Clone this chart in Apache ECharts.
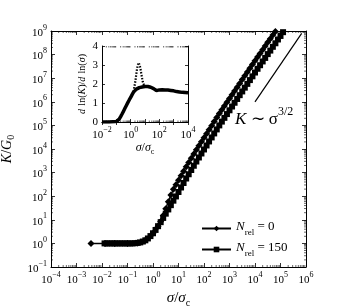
<!DOCTYPE html>
<html><head><meta charset="utf-8">
<script src="https://cdn.jsdelivr.net/npm/echarts@6/dist/echarts.min.js"></script>
<style>html,body{margin:0;padding:0;background:#fff}#c{width:341px;height:307px}</style>
</head><body><div id="c"></div>
<script>
// N_rel = 150 (square markers, dense lower band)
const sigma150 = [0.0126,0.0158,0.02,0.0251,0.0316,0.0398,0.0501,0.0631,0.0794,
 0.1,0.126,0.158,0.2,0.251,0.316,0.398,0.501,0.631,0.794,
 1,1.26,1.58,2.0,2.51,3.16,3.98,5.01,6.31,7.94,
 10,12.6,15.8,20,25.1,31.6,39.8,50.1,63.1,79.4,
 100,126,158,200,251,316,398,501,631,794,
 1000,1260,1580,2000,2510,3160,3980,5010,6310,7940,
 1e4,1.26e4,1.58e4,2e4,2.51e4,3.16e4,3.98e4,5.01e4,6.31e4,7.94e4,
 1e5,1.26e5,1.58e5];
const k150 = [1,1,1,1,1,1,1,1,1,1,1,1,
 1.02,1.05,1.10,1.20,1.35,1.62,2.04,
 2.69,3.72,5.37,7.94,12.0,18.2,27.5,41.7,64.6,97.7,
 151,234,363,562,851,1290,1950,2950,4370,6460,
 9550,14100,20900,30900,45700,67600,1.00e5,1.45e5,2.09e5,3.02e5,
 4.37e5,6.31e5,9.12e5,1.32e6,1.91e6,2.75e6,3.98e6,5.75e6,8.32e6,1.20e7,
 1.74e7,2.51e7,3.55e7,5.13e7,7.24e7,1.05e8,1.48e8,2.14e8,3.02e8,4.37e8,
 6.17e8,8.91e8,1.26e9];
// N_rel = 0 (diamond markers, upper curve)
const sigma0 = [0.0037,0.0132,0.0316,0.1,0.251,0.501,1,1.58,
 2.0,2.51,3.16,3.98,5.01,6.31,7.94,
 10,12.6,15.8,20,25.1,31.6,39.8,50.1,63.1,79.4,
 100,126,158,200,251,316,398,501,631,794,
 1000,1260,1580,2000,2510,3160,3980,5010,6310,7940,
 1e4,1.26e4,1.58e4,2e4,2.51e4,3.16e4,3.98e4,5.01e4,6.31e4,7.94e4];
const k0 = [1,1,1,1,1.05,1.35,2.69,5.37,
 8.51,15.1,29.5,58.9,112,195,309,
 479,741,1150,1780,2690,4070,6170,9330,13800,20400,
 30200,44700,66100,97700,1.45e5,2.14e5,3.16e5,4.57e5,6.61e5,9.55e5,
 1.38e6,2.00e6,2.88e6,4.17e6,6.03e6,8.71e6,1.26e7,1.82e7,2.63e7,3.80e7,
 5.50e7,7.94e7,1.12e8,1.62e8,2.29e8,3.31e8,4.68e8,6.76e8,9.55e8,1.38e9];
// reference slope line K ~ sigma^(3/2)
const refSigma = [1e4, 6.76e5];
const refK = [1e6, 7.9e8];
// inset: d ln K / d ln sigma
const insetSigma150 = [0.01,0.0316,0.1,0.126,0.158,0.2,0.251,0.316,0.398,0.501,0.631,0.794,
 1,1.26,1.58,2.0,2.51,3.16,3.98,5.01,6.31,7.94,
 10,12.6,15.8,20,25.1,31.6,39.8,50.1,63.1,79.4,
 100,158,251,398,631,1000,1580,2510,3980,6310,10000];
const insetSlope150 = [0,0,0.02,0.05,0.15,0.28,0.42,0.57,0.72,0.87,1.02,1.16,
 1.29,1.44,1.57,1.66,1.73,1.78,1.81,1.83,1.84,1.86,
 1.87,1.88,1.87,1.85,1.83,1.81,1.76,1.70,1.65,1.66,
 1.69,1.70,1.69,1.68,1.66,1.64,1.60,1.58,1.56,1.55,1.54];
const insetSigma0 = [1.58,1.86,2.14,2.45,2.75,3.16,3.63,4.17,4.68,5.37,6.17,7.08,8.13,9.33];
const insetSlope0 = [1.6,1.9,2.16,2.5,2.77,3.0,3.12,3.0,2.86,2.6,2.33,2.1,1.98,1.92];
const seriesNames = ['N_rel = 0', 'N_rel = 150'];
const legendLabels = {'N_rel = 0': '{i|N}{s|rel}{n| = 0}', 'N_rel = 150': '{i|N}{s|rel}{n| = 150}'};
// log-axis minor tick mantissas and decade ranges
const minorMantissas = [2,3,4,5,6,7,8,9];
const mainXDecades = [-4,-3,-2,-1,0,1,2,3,4,5];
const mainYDecades = [-1,0,1,2,3,4,5,6,7,8];
const insetXDecades = [-2,-1,0,1,2,3];

const zip = (a, b) => a.map((v, i) => [v, b[i]]);
const minorVals = decs => decs.flatMap(d => minorMantissas.map(m => m * Math.pow(10, d)));
const FF = 'Liberation Serif';
const supLabel = (v) => {
  const e = Math.round(Math.log10(v));
  return '{b|10}{e|' + (e < 0 ? '\u2212' + (-e) : e) + '}';
};
const supRich = {
  b: {fontFamily: FF, fontSize: 11, color: '#000', verticalAlign: 'bottom', lineHeight: 15},
  e: {fontFamily: FF, fontSize: 8, color: '#000', verticalAlign: 'top', lineHeight: 15}
};
const tickIn = {show: true, inside: true, length: 4, lineStyle: {color: '#000', width: 0.8}};
const tickInS = {show: true, inside: true, length: 3, lineStyle: {color: '#000', width: 0.8}};
const line = {show: true, lineStyle: {color: '#000', width: 1}};

function minorTickSeries(xi, yi, vals, horizontal, len, yRef, xRef) {
  return {
    type: 'custom', xAxisIndex: xi, yAxisIndex: yi, silent: true, clip: false, z: 6,
    data: vals.map(v => horizontal ? [v, yRef] : [xRef, v]),
    renderItem: (params, api) => {
      const cs = params.coordSys;
      const p = api.coord([api.value(0), api.value(1)]);
      const st = {stroke: '#000', lineWidth: 0.6};
      if (horizontal) {
        return {type: 'group', children: [
          {type: 'line', shape: {x1: p[0], y1: cs.y + cs.height, x2: p[0], y2: cs.y + cs.height - len}, style: st},
          {type: 'line', shape: {x1: p[0], y1: cs.y, x2: p[0], y2: cs.y + len}, style: st}]};
      }
      return {type: 'group', children: [
        {type: 'line', shape: {x1: cs.x, y1: p[1], x2: cs.x + len, y2: p[1]}, style: st},
        {type: 'line', shape: {x1: cs.x + cs.width, y1: p[1], x2: cs.x + cs.width - len, y2: p[1]}, style: st}]};
    }
  };
}

const chart = echarts.init(document.getElementById('c'), null, {renderer: 'canvas'});
chart.setOption({
  animation: false,
  backgroundColor: '#fff',
  grid: [
    {left: 51, right: 35, top: 31, bottom: 40, outerBoundsMode: 'none', containLabel: false},
    {left: 102, top: 46, width: 86, height: 76, show: true, backgroundColor: '#fff', borderWidth: 0, outerBoundsMode: 'none', containLabel: false}
  ],
  xAxis: [
    {gridIndex: 0, type: 'log', min: 1e-4, max: 1e6, position: 'bottom',
     name: '{i|σ}{n|/}{i|σ}{s|c}', nameLocation: 'middle', nameGap: 20,
     nameTextStyle: {rich: {i: {fontFamily: FF, fontSize: 15, fontStyle: 'italic', color: '#000'}, n: {fontFamily: FF, fontSize: 15, color: '#000'}, s: {fontFamily: FF, fontSize: 10, color: '#000', verticalAlign: 'bottom', lineHeight: 20}}},
     axisLine: line, axisTick: tickIn, splitLine: {show: false},
     axisLabel: {formatter: supLabel, rich: supRich, margin: 4}},
    {gridIndex: 0, type: 'log', min: 1e-4, max: 1e6, position: 'top',
     axisLine: line, axisTick: tickIn, splitLine: {show: false}, axisLabel: {show: false}},
    {gridIndex: 1, type: 'log', min: 1e-2, max: 1e4, position: 'bottom',
     name: '{i|σ}{n|/}{i|σ}{s|c}', nameLocation: 'middle', nameGap: 17,
     nameTextStyle: {rich: {i: {fontFamily: FF, fontSize: 12, fontStyle: 'italic', color: '#000'}, n: {fontFamily: FF, fontSize: 12, color: '#000'}, s: {fontFamily: FF, fontSize: 8, color: '#000', verticalAlign: 'bottom', lineHeight: 16}}},
     axisLine: line, axisTick: tickInS, splitLine: {show: false},
     axisLabel: {formatter: v => (Math.round(Math.log10(v)) % 2 === 0 ? supLabel(v) : ''), rich: supRich, margin: 4}},
    {gridIndex: 1, type: 'log', min: 1e-2, max: 1e4, position: 'top',
     axisLine: line, axisTick: tickInS, splitLine: {show: false}, axisLabel: {show: false}}
  ],
  yAxis: [
    {gridIndex: 0, type: 'log', min: 1e-1, max: 1e9, position: 'left',
     name: '{i|K}{n|/}{i|G}{s|0}', nameLocation: 'middle', nameGap: 30, nameRotate: 90,
     nameTextStyle: {rich: {i: {fontFamily: FF, fontSize: 14, fontStyle: 'italic', color: '#000'}, n: {fontFamily: FF, fontSize: 14, color: '#000'}, s: {fontFamily: FF, fontSize: 10, color: '#000', verticalAlign: 'bottom', lineHeight: 19}}},
     axisLine: line, axisTick: tickIn, splitLine: {show: false},
     axisLabel: {formatter: supLabel, rich: supRich, margin: 4}},
    {gridIndex: 0, type: 'log', min: 1e-1, max: 1e9, position: 'right',
     axisLine: line, axisTick: tickIn, splitLine: {show: false}, axisLabel: {show: false}},
    {gridIndex: 1, type: 'value', min: 0, max: 4, interval: 1, position: 'left',
     name: '{i|d} {n|ln(}{i|K}{n|)/}{i|d} {n|ln(}{i|σ}{n|)}', nameLocation: 'middle', nameGap: 14, nameRotate: 90,
     nameTextStyle: {rich: {i: {fontFamily: FF, fontSize: 10, fontStyle: 'italic', color: '#000'}, n: {fontFamily: FF, fontSize: 10, color: '#000'}}},
     axisLine: line, axisTick: tickInS, splitLine: {show: false},
     axisLabel: {fontFamily: FF, fontSize: 11, color: '#000', margin: 4}},
    {gridIndex: 1, type: 'value', min: 0, max: 4, interval: 1, position: 'right',
     axisLine: line, axisTick: tickInS, splitLine: {show: false}, axisLabel: {show: false}}
  ],
  legend: {
    data: seriesNames, left: 196, top: 215, orient: 'vertical', itemGap: 4,
    itemWidth: 29, itemHeight: 7,
    formatter: n => legendLabels[n],
    textStyle: {rich: {
      i: {fontFamily: FF, fontSize: 13, fontStyle: 'italic', color: '#000', verticalAlign: 'top', lineHeight: 17},
      s: {fontFamily: FF, fontSize: 9, color: '#000', verticalAlign: 'bottom', lineHeight: 17},
      n: {fontFamily: FF, fontSize: 13, color: '#000', verticalAlign: 'top', lineHeight: 17}}}
  },
  graphic: [{
    type: 'text', left: 235, top: 106,
    style: {text: '{i|K}{n| ∼ }{g|σ}{p|3/2}', rich: {
      i: {fontFamily: FF, fontSize: 17, fontStyle: 'italic', fill: '#000', verticalAlign: 'bottom', lineHeight: 22},
      n: {fontFamily: FF, fontSize: 17, fill: '#000', verticalAlign: 'bottom', lineHeight: 22},
      g: {fontFamily: FF, fontSize: 17, fill: '#000', verticalAlign: 'bottom', lineHeight: 22},
      p: {fontFamily: FF, fontSize: 12, fill: '#000', verticalAlign: 'top', lineHeight: 22}}}
  }],
  series: [
    {name: 'N_rel = 0', type: 'line', xAxisIndex: 0, yAxisIndex: 0, data: zip(sigma0, k0),
     symbol: 'diamond', symbolSize: 7, showAllSymbol: true, color: '#000',
     lineStyle: {color: '#000', width: 1.5}, itemStyle: {color: '#000'}, z: 3},
    {name: 'N_rel = 150', type: 'line', xAxisIndex: 0, yAxisIndex: 0, data: zip(sigma150, k150),
     symbol: 'rect', symbolSize: 6, showAllSymbol: true, color: '#000',
     lineStyle: {color: '#000', width: 1.5}, itemStyle: {color: '#000'}, z: 3},
    {name: 'ref', type: 'line', xAxisIndex: 0, yAxisIndex: 0, data: zip(refSigma, refK),
     symbol: 'none', lineStyle: {color: '#000', width: 1.2}},
    {name: 'inset150', type: 'line', xAxisIndex: 2, yAxisIndex: 2, data: zip(insetSigma150, insetSlope150),
     symbol: 'none', lineStyle: {color: '#000', width: 3.5}, z: 5},
    {name: 'inset0', type: 'line', xAxisIndex: 2, yAxisIndex: 2, data: zip(insetSigma0, insetSlope0),
     symbol: 'none', lineStyle: {color: '#000', width: 2.2, type: [1.5, 1.5]}, z: 5},
    minorTickSeries(0, 0, minorVals(mainXDecades), true, 2, 1, 1),
    minorTickSeries(0, 0, minorVals(mainYDecades), false, 2, 1, 1),
    minorTickSeries(2, 2, minorVals(insetXDecades), true, 1.5, 1, 1)
  ]
});
</script></body></html>
